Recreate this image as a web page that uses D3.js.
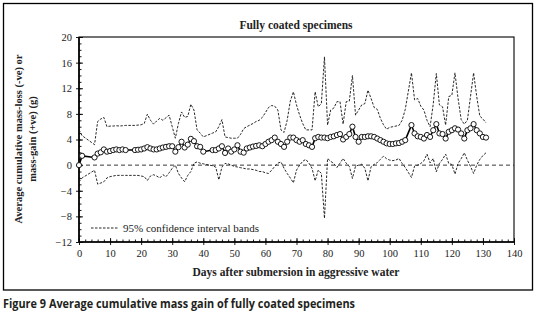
<!DOCTYPE html>
<html><head><meta charset="utf-8">
<script src="https://cdn.jsdelivr.net/npm/d3@7"></script>
<style>body{margin:0;background:#fff}svg{display:block}</style>
</head><body>
<svg id="c" width="536" height="317"></svg>
<script>
// ---- data ----
const days = [
  0,1,5,6,7,8,9,10,11,12,
  13,14,15,18,19,20,21,22,23,24,
  25,26,27,28,29,30,31,32,33,34,
  35,36,37,38,39,40,43,44,45,46,
  47,48,49,50,51,52,53,54,55,56,
  57,58,59,60,61,62,63,64,65,66,
  67,68,69,70,71,72,73,74,75,76,
  77,78,79,80,81,82,83,84,85,86,
  87,88,89,90,91,92,93,94,95,96,
  97,98,99,100,101,102,103,104,105,107,
  108,109,110,111,112,113,114,115,116,117,
  118,119,120,121,122,123,124,125,126,127,
  128,129,130,131
];
const meanGain = [
  0,1.45,1.2,1.8,2.0,2.45,2.1,2.2,2.35,2.45,
  2.35,2.45,2.35,2.35,2.4,2.45,2.6,2.8,2.6,2.45,
  2.45,2.6,2.75,2.85,2.95,2.95,2.1,2.8,3.65,2.75,
  3.2,4.1,3.75,2.95,2.85,2.1,2.35,2.35,2.6,2.95,
  1.9,2.6,2.1,2.45,3.1,2.1,1.95,2.6,2.75,2.9,
  3.0,3.1,2.95,3.3,3.65,3.9,4.3,3.65,3.3,2.85,
  3.65,4.3,4.3,3.9,3.65,3.9,3.3,3.1,2.85,4.2,
  4.4,4.3,4.3,4.2,4.4,4.5,4.7,4.85,4.0,4.4,
  4.85,6.0,4.4,3.65,4.4,4.4,4.5,4.5,4.4,4.15,
  3.9,3.65,3.4,3.3,3.3,3.4,3.45,3.65,3.9,6.25,
  4.95,4.5,4.4,4.15,4.7,4.4,5.45,6.4,4.95,4.85,
  4.15,5.2,5.45,5.75,5.55,4.95,4.15,5.45,5.75,6.4,
  5.45,4.95,4.4,4.3
];
const upperBand = [
  5.5,4.6,3.2,6.8,7.2,7.45,6.0,6.1,6.1,6.15,
  6.1,6.15,6.2,6.2,6.25,6.3,6.5,7.95,7.0,6.4,
  6.9,7.3,7.0,7.4,7.8,6.0,4.2,6.5,8.3,7.45,
  7.6,9.5,8.6,5.5,5.0,4.4,5.0,5.2,6.0,7.1,
  4.4,4.3,4.2,4.2,4.2,4.8,5.7,6.0,6.25,6.5,
  6.8,7.0,7.45,8.2,9.0,9.3,9.2,8.6,5.5,5.1,
  7.0,10.0,11.45,9.4,7.8,6.5,5.5,5.5,5.5,11.45,
  9.1,9.6,16.9,6.25,8.6,8.9,9.9,9.9,6.4,9.9,
  10.0,14.0,7.8,8.6,9.4,9.6,11.7,10.4,9.0,8.7,
  7.3,6.3,5.6,5.9,6.0,6.1,6.2,7.0,8.7,14.4,
  10.2,10.4,9.2,8.6,7.0,6.0,9.5,14.3,9.4,9.1,
  6.25,10.7,10.9,14.4,10.4,7.1,6.4,7.0,10.7,14.4,
  10.7,7.65,7.2,6.6
];
const lowerBand = [
  -2.6,-2.0,-0.8,-2.97,-2.8,-2.6,-2.0,-1.8,-1.7,-1.6,
  -1.6,-1.6,-1.6,-1.6,-1.6,-1.7,-1.8,-2.4,-1.7,-1.5,
  -1.7,-2.0,-1.5,-1.8,-1.2,-0.5,0.0,-1.3,-2.0,-2.6,
  -1.6,-1.0,0.3,0.5,0.3,0.2,-0.1,-0.3,-2.3,-0.3,
  0.26,0.2,0.0,-0.2,-0.3,-0.4,-0.5,-0.6,-0.6,-0.7,
  -0.8,-1.0,-1.0,-1.2,-1.3,-0.8,-0.2,0.3,0.5,-0.5,
  -1.3,-2.0,-2.76,-0.78,0.0,0.6,0.9,0.3,-0.5,-2.45,
  -0.78,-1.3,-8.3,1.04,0.6,0.26,-0.36,0.3,1.04,0.3,
  -0.2,-2.08,-0.16,0.0,0.16,-0.5,-2.45,-0.26,0.1,0.4,
  0.9,1.4,1.0,0.78,0.7,0.8,1.04,0.26,-0.36,-1.93,
  -0.16,0.0,0.26,0.68,1.72,0.36,1.04,-1.04,0.26,0.9,
  1.72,0.26,0.1,-1.4,0.26,1.0,1.93,0.78,-0.2,-1.3,
  0.0,0.89,1.5,1.93
];
const xTickValues = [0,10,20,30,40,50,60,70,80,90,100,110,120,130,140];
const yTickValues = [-12,-8,-4,0,4,8,12,16,20];
const chartTitle = "Fully coated specimens";
const xTitle = "Days after submersion in aggressive water";
const yTitle1 = "Average cumulative mass-loss (-ve) or";
const yTitle2 = "mass-gain (+ve) (g)";
const legendText = "95% confidence interval bands";
const caption = "Figure 9 Average cumulative mass gain of fully coated specimens";

// ---- drawing ----
const SERIF = "'Liberation Serif','DejaVu Serif',serif";
const svg = d3.select('#c');
const x = d3.scaleLinear().domain([0,140]).range([79,514]);
const y = d3.scaleLinear().domain([-12,20]).range([242,37]);

svg.append('rect').attr('x',3.5).attr('y',3.5).attr('width',529).attr('height',286.5)
  .attr('fill','none').attr('stroke','#000').attr('stroke-width',1.3);

svg.append('rect').attr('x',x(0)).attr('y',y(20)).attr('width',x(140)-x(0)).attr('height',y(-12)-y(20))
  .attr('fill','none').attr('stroke','#000').attr('stroke-width',1.1);

function styleAxis(g){
  g.select('.domain').remove();
  g.selectAll('line').attr('stroke','#000').attr('stroke-width',0.9);
  g.selectAll('text').attr('font-family',SERIF).attr('font-size','10.5px').attr('fill','#222');
}
// left axis
svg.append('g').attr('transform',`translate(${x(0)},0)`)
  .call(d3.axisLeft(y).tickValues(yTickValues).tickSize(3).tickPadding(4).tickFormat(d3.format('d')))
  .call(styleAxis);
svg.append('g').attr('transform',`translate(${x(0)},0)`)
  .call(d3.axisLeft(y).tickValues(yTickValues).tickSize(-4).tickFormat(''))
  .call(styleAxis);
svg.append('g').attr('transform',`translate(${x(0)},0)`)
  .call(d3.axisLeft(y).tickValues(d3.range(-12,21,1)).tickSize(-2.5).tickFormat(''))
  .call(styleAxis);
// bottom axis
svg.append('g').attr('transform',`translate(0,${y(-12)})`)
  .call(d3.axisBottom(x).tickValues(xTickValues).tickSize(3).tickPadding(5).tickFormat(d3.format('d')))
  .call(styleAxis);
svg.append('g').attr('transform',`translate(0,${y(-12)})`)
  .call(d3.axisBottom(x).tickValues(xTickValues).tickSize(-4).tickFormat(''))
  .call(styleAxis);
svg.append('g').attr('transform',`translate(0,${y(-12)})`)
  .call(d3.axisBottom(x).tickValues(d3.range(0,141,2)).tickSize(-2.5).tickFormat(''))
  .call(styleAxis);
// axis lines thicker
svg.append('line').attr('x1',x(0)).attr('x2',x(0)).attr('y1',y(20)).attr('y2',y(-12)).attr('stroke','#000').attr('stroke-width',1.6);
svg.append('line').attr('x1',x(0)).attr('x2',x(140)).attr('y1',y(-12)).attr('y2',y(-12)).attr('stroke','#000').attr('stroke-width',1.6);

// zero line
svg.append('line').attr('x1',x(0)).attr('x2',x(140)).attr('y1',y(0)).attr('y2',y(0))
  .attr('stroke','#222').attr('stroke-width',0.9).attr('stroke-dasharray','4,3');

const bandLine = (vals) => d3.line().x((d,i)=>x(days[i])).y((d)=>y(d))(vals);
[upperBand, lowerBand].forEach(v=>{
  svg.append('path').attr('d',bandLine(v)).attr('fill','none')
    .attr('stroke','#111').attr('stroke-width',0.9).attr('stroke-dasharray','2.5,1.5');
});

svg.append('path').attr('d',bandLine(meanGain)).attr('fill','none')
  .attr('stroke','#000').attr('stroke-width',1.6);
svg.append('g').selectAll('circle').data(meanGain).join('circle')
  .attr('cx',(d,i)=>x(days[i])).attr('cy',d=>y(d)).attr('r',2.6)
  .attr('fill','#fff').attr('stroke','#000').attr('stroke-width',0.9);

// legend
svg.append('line').attr('x1',91).attr('x2',118).attr('y1',228).attr('y2',228)
  .attr('stroke','#111').attr('stroke-width',0.9).attr('stroke-dasharray','2.5,1.5');
svg.append('text').attr('x',123).attr('y',231.5).attr('font-family',SERIF).attr('font-size','11px')
  .attr('fill','#222').text(legendText);

// titles
svg.append('text').attr('x',296).attr('y',29).attr('text-anchor','middle').attr('font-family',SERIF)
  .attr('font-weight','bold').attr('font-size','11.5px').attr('fill','#222').text(chartTitle);
svg.append('text').attr('x',296).attr('y',276).attr('text-anchor','middle').attr('font-family',SERIF)
  .attr('font-weight','bold').attr('font-size','11.5px').attr('fill','#222').text(xTitle);
const yt = svg.append('g').attr('transform','rotate(-90)');
yt.append('text').attr('x',-139).attr('y',22).attr('text-anchor','middle').attr('font-family',SERIF)
  .attr('font-weight','bold').attr('font-size','10.5px').attr('fill','#222').text(yTitle1);
yt.append('text').attr('x',-139).attr('y',36).attr('text-anchor','middle').attr('font-family',SERIF)
  .attr('font-weight','bold').attr('font-size','10.5px').attr('fill','#222').text(yTitle2);

// caption
svg.append('text').attr('x',3).attr('y',308).attr('font-family',"'Liberation Sans Narrow','Open Sans',sans-serif")
  .attr('font-weight','bold').attr('font-size','12.5px').attr('fill','#231f20')
  .attr('textLength',352).attr('lengthAdjust','spacingAndGlyphs').text(caption);
</script>
</body></html>
